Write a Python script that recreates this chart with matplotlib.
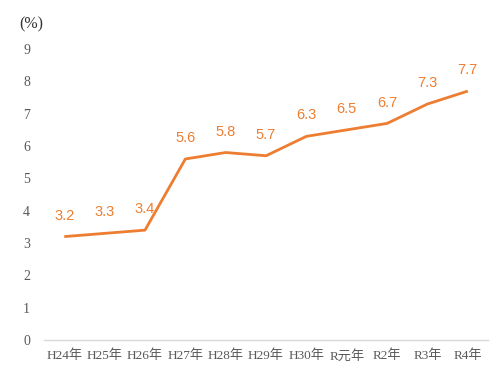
import matplotlib.pyplot as plt

years = ['H24年', 'H25年', 'H26年', 'H27年', 'H28年', 'H29年', 'H30年', 'R元年', 'R2年', 'R3年', 'R4年']
rates = [3.2, 3.3, 3.4, 5.6, 5.8, 5.7, 6.3, 6.5, 6.7, 7.3, 7.7]
yticks = list(range(0, 10))

orange = '#ED7D31'
grey = '#595959'
tick_font = ['Liberation Serif', 'Noto Sans CJK JP']

fig = plt.figure(figsize=(4.9, 3.8), dpi=100)
ax = fig.add_axes([0.09, 0.105, 0.906, 0.766])

x = range(len(years))
ax.plot(x, rates, color=orange, linewidth=2.0, solid_capstyle='butt')
for i, v in zip(x, rates):
    ax.annotate(f'{v:.1f}', (i, v), xytext=(0, 10), textcoords='offset points',
                ha='center', va='bottom', color=orange, fontsize=10.5,
                family='Liberation Sans')

ax.set_xlim(-0.5, len(years) - 0.5)
ax.set_ylim(0, 9)
ax.set_xticks(list(x))
ax.set_xticklabels(years, family=tick_font, fontsize=9.5, color=grey)
ax.set_yticks(yticks)
ax.set_yticklabels([str(t) for t in yticks], family=tick_font, fontsize=10, color=grey)
ax.tick_params(length=0, axis='y', pad=10)
ax.tick_params(length=0, axis='x', pad=7)

for s in ['top', 'right', 'left']:
    ax.spines[s].set_visible(False)
ax.spines['bottom'].set_color('#D9D9D9')
ax.spines['bottom'].set_linewidth(1.0)

fig.text(0.04, 0.925, '(%)', family=tick_font, fontsize=11.5, color='#333333')

fig.savefig('out.png', dpi=100)
